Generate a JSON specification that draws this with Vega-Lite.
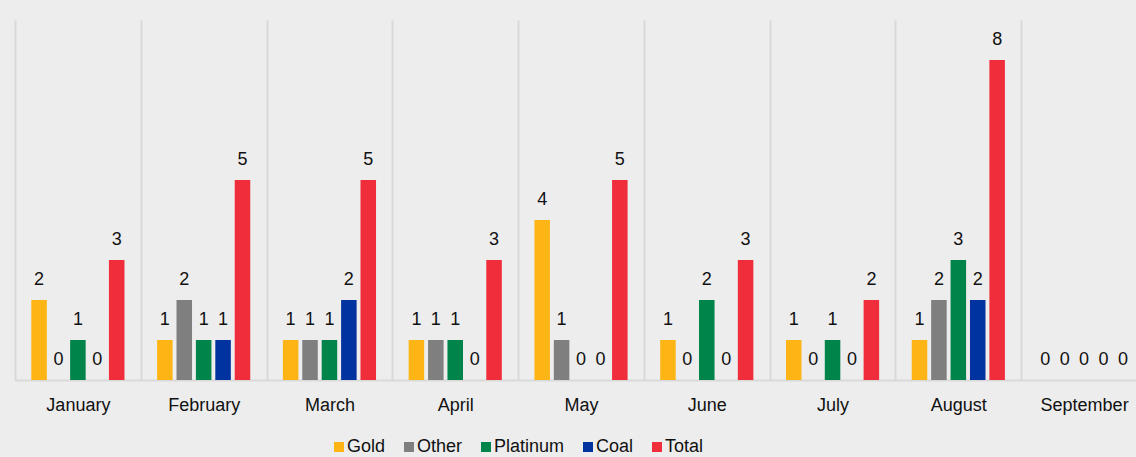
{
  "$schema": "https://vega.github.io/schema/vega-lite/v6.json",
  "width": 1121,
  "height": 360,
  "autosize": {"type": "none"},
  "padding": {"left": 15, "top": 20, "right": 0, "bottom": 77},
  "background": "#ededed",
  "config": {
    "font": "Liberation Sans",
    "view": {"stroke": null}
  },
  "data": {
    "values": [
      {"month": "January", "series": "Gold", "value": 2},
      {"month": "January", "series": "Other", "value": 0},
      {"month": "January", "series": "Platinum", "value": 1},
      {"month": "January", "series": "Coal", "value": 0},
      {"month": "January", "series": "Total", "value": 3},
      {"month": "February", "series": "Gold", "value": 1},
      {"month": "February", "series": "Other", "value": 2},
      {"month": "February", "series": "Platinum", "value": 1},
      {"month": "February", "series": "Coal", "value": 1},
      {"month": "February", "series": "Total", "value": 5},
      {"month": "March", "series": "Gold", "value": 1},
      {"month": "March", "series": "Other", "value": 1},
      {"month": "March", "series": "Platinum", "value": 1},
      {"month": "March", "series": "Coal", "value": 2},
      {"month": "March", "series": "Total", "value": 5},
      {"month": "April", "series": "Gold", "value": 1},
      {"month": "April", "series": "Other", "value": 1},
      {"month": "April", "series": "Platinum", "value": 1},
      {"month": "April", "series": "Coal", "value": 0},
      {"month": "April", "series": "Total", "value": 3},
      {"month": "May", "series": "Gold", "value": 4},
      {"month": "May", "series": "Other", "value": 1},
      {"month": "May", "series": "Platinum", "value": 0},
      {"month": "May", "series": "Coal", "value": 0},
      {"month": "May", "series": "Total", "value": 5},
      {"month": "June", "series": "Gold", "value": 1},
      {"month": "June", "series": "Other", "value": 0},
      {"month": "June", "series": "Platinum", "value": 2},
      {"month": "June", "series": "Coal", "value": 0},
      {"month": "June", "series": "Total", "value": 3},
      {"month": "July", "series": "Gold", "value": 1},
      {"month": "July", "series": "Other", "value": 0},
      {"month": "July", "series": "Platinum", "value": 1},
      {"month": "July", "series": "Coal", "value": 0},
      {"month": "July", "series": "Total", "value": 2},
      {"month": "August", "series": "Gold", "value": 1},
      {"month": "August", "series": "Other", "value": 2},
      {"month": "August", "series": "Platinum", "value": 3},
      {"month": "August", "series": "Coal", "value": 2},
      {"month": "August", "series": "Total", "value": 8},
      {"month": "September", "series": "Gold", "value": 0},
      {"month": "September", "series": "Other", "value": 0},
      {"month": "September", "series": "Platinum", "value": 0},
      {"month": "September", "series": "Coal", "value": 0},
      {"month": "September", "series": "Total", "value": 0}
    ]
  },
  "encoding": {
    "x": {
      "field": "month",
      "type": "nominal",
      "sort": ["January", "February", "March", "April", "May", "June", "July", "August", "September"],
      "scale": {"paddingInner": 0, "paddingOuter": 0, "range": [0, 1132]},
      "axis": {
        "title": null,
        "labelAngle": 0,
        "labelFontSize": 18,
        "labelColor": "#111111",
        "labelBaseline": "alphabetic",
        "labelPadding": 30,
        "ticks": false,
        "tickSize": 0,
        "tickBand": "extent",
        "grid": true,
        "gridColor": "#d9d9d9",
        "gridWidth": 2,
        "domainColor": "#d9d9d9",
        "domainWidth": 2
      }
    },
    "xOffset": {
      "field": "series",
      "type": "nominal",
      "sort": ["Gold", "Other", "Platinum", "Coal", "Total"],
      "scale": {"paddingInner": 0.2, "paddingOuter": 0.84}
    },
    "y": {
      "field": "value",
      "type": "quantitative",
      "scale": {"domain": [0, 9], "nice": false},
      "axis": null
    }
  },
  "layer": [
    {
      "mark": {"type": "bar"},
      "encoding": {
        "color": {
          "field": "series",
          "type": "nominal",
          "sort": ["Gold", "Other", "Platinum", "Coal", "Total"],
          "scale": {
            "domain": ["Gold", "Other", "Platinum", "Coal", "Total"],
            "range": ["#FDB515", "#7F7F7F", "#00844A", "#0033A0", "#F02D3A"]
          },
          "legend": {
            "title": null,
            "orient": "none",
            "direction": "horizontal",
            "legendX": 315,
            "legendY": 418,
            "symbolType": "square",
            "symbolSize": 100,
            "symbolStrokeWidth": 0,
            "labelFontSize": 18,
            "labelColor": "#111111",
            "labelOffset": -1,
            "columnPadding": 14,
            "padding": 0
          }
        }
      }
    },
    {
      "mark": {"type": "text", "baseline": "alphabetic", "dy": -15, "fontSize": 18, "color": "#111111"},
      "encoding": {
        "text": {"field": "value", "type": "quantitative"}
      }
    }
  ]
}
